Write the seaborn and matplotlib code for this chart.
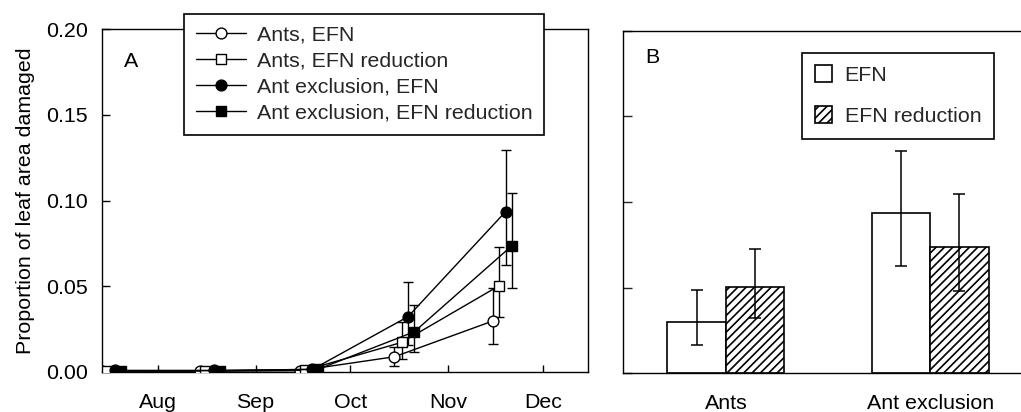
import numpy as np
import pandas as pd
import matplotlib
matplotlib.use("Agg")
import matplotlib.pyplot as plt
import seaborn as sns
from matplotlib.patches import Patch

# ---------------- Panel A data (days since 1 Aug) ----------------
series_names = ["Ants, EFN", "Ants, EFN reduction",
                "Ant exclusion, EFN", "Ant exclusion, EFN reduction"]

days_ants_efn = [-17.5, 13.5, 45.0, 75.0, 106.2]
days_ants_red = [-16.0, 15.0, 46.7, 77.3, 108.2]
days_excl_efn = [-13.5, 17.7, 49.0, 79.3, 110.2]
days_excl_red = [-11.5, 19.6, 50.8, 81.3, 112.2]

dmg_ants_efn = [0.0005, 0.0005, 0.0008, 0.0089, 0.0298]
dmg_ants_red = [0.0007, 0.0006, 0.0010, 0.0173, 0.0504]
dmg_excl_efn = [0.0009, 0.0009, 0.0015, 0.0323, 0.0936]
dmg_excl_red = [0.0008, 0.0008, 0.0016, 0.0235, 0.0737]

nan = np.nan
lo_ants_efn = [nan, nan, nan, 0.0035, 0.0165]
hi_ants_efn = [nan, nan, nan, 0.0145, 0.0488]
lo_ants_red = [nan, nan, nan, 0.0075, 0.0323]
hi_ants_red = [nan, nan, nan, 0.0294, 0.0728]
lo_excl_efn = [nan, nan, nan, 0.0160, 0.0625]
hi_excl_efn = [nan, nan, nan, 0.0527, 0.1296]
lo_excl_red = [nan, nan, nan, 0.0119, 0.0489]
hi_excl_red = [nan, nan, nan, 0.0390, 0.1043]

month_days = [0, 31, 61, 92, 122]
month_labels = ["Aug", "Sep", "Oct", "Nov", "Dec"]
y_ticks = [0.00, 0.05, 0.10, 0.15, 0.20]

# ---------------- Panel B data ----------------
groups = ["Ants", "Ant exclusion"]
treatments = ["EFN", "EFN reduction"]
bar_efn = [0.0298, 0.0938]
bar_red = [0.0502, 0.0736]
bar_efn_lo = [0.0163, 0.0628]
bar_efn_hi = [0.0488, 0.1298]
bar_red_lo = [0.0321, 0.0482]
bar_red_hi = [0.0726, 0.1047]

# ---------------- Style ----------------
sns.set_theme(style="white")
plt.rcParams["font.family"] = ["Liberation Sans", "DejaVu Sans"]
plt.rcParams["hatch.linewidth"] = 1.2
FS = 15.4
LW = 1.0

fig = plt.figure(figsize=(10.21, 4.12), dpi=100)
axA = fig.add_axes([0.0999, 0.0971, 0.4757, 0.8318])
axB = fig.add_axes([0.6099, 0.0939, 0.3901, 0.8316])

# ---------------- Panel A ----------------
series = [
    (days_ants_efn, dmg_ants_efn, lo_ants_efn, hi_ants_efn, "o", "white", 7.8),
    (days_ants_red, dmg_ants_red, lo_ants_red, hi_ants_red, "s", "white", 6.8),
    (days_excl_efn, dmg_excl_efn, lo_excl_efn, hi_excl_efn, "o", "black", 7.8),
    (days_excl_red, dmg_excl_red, lo_excl_red, hi_excl_red, "s", "black", 6.8),
]
handles = []
for name, (xd, yd, lo, hi, mk, fc, ms) in zip(series_names, series):
    xd = np.asarray(xd); yd = np.asarray(yd)
    lo = np.asarray(lo); hi = np.asarray(hi)
    m = ~np.isnan(lo)
    axA.errorbar(xd[m], yd[m], yerr=[yd[m] - lo[m], hi[m] - yd[m]], fmt="none",
                 ecolor="black", elinewidth=LW, capsize=3.6, capthick=LW, zorder=2)
    sns.lineplot(x=xd, y=yd, ax=axA, color="black", linewidth=LW, marker=mk,
                 markersize=ms, markerfacecolor=fc, markeredgecolor="black",
                 markeredgewidth=LW, zorder=3, sort=False, estimator=None)
    handles.append(axA.lines[-1])

axA.set_xlim(-17.65, 136.2)
axA.set_ylim(0, 0.20)
axA.set_xticks(month_days)
axA.set_xticklabels(month_labels)
axA.set_yticks(y_ticks)
axA.set_yticklabels([f"{v:.2f}" for v in y_ticks])
axA.tick_params(axis="x", direction="in", length=5, width=LW, pad=15,
                labelsize=FS, colors="black", bottom=True)
axA.tick_params(axis="y", direction="in", length=5.5, width=LW, pad=10,
                labelsize=FS, colors="black", left=True)
axA.set_ylabel("Proportion of leaf area damaged", fontsize=FS, labelpad=8,
               color="black")
axA.set_xlabel("")
for sp in axA.spines.values():
    sp.set_color("black"); sp.set_linewidth(LW)
axA.text(0.06, 0.907, "A", transform=axA.transAxes, fontsize=FS,
         ha="center", va="center", color="black")

legA = axA.legend(handles, series_names, loc="upper left",
                  bbox_to_anchor=(0.169, 1.0447), borderaxespad=0,
                  fontsize=FS, frameon=True, fancybox=False, framealpha=1,
                  edgecolor="black", handlelength=2.35, handletextpad=0.5,
                  labelspacing=0.33, borderpad=0.55)
legA.get_frame().set_linewidth(1.2)
legA.set_zorder(10)

# ---------------- Panel B ----------------
df = pd.DataFrame({
    "group": groups * 2,
    "treatment": [t for t in treatments for _ in groups],
    "value": bar_efn + bar_red,
})
sns.barplot(data=df, x="group", y="value", hue="treatment", order=groups,
            hue_order=treatments, palette=["white", "white"], saturation=1,
            edgecolor="black", linewidth=1.2, width=0.573, errorbar=None,
            legend=False, ax=axB)

hatches = ["", "////"]
vals = [bar_efn, bar_red]
los = [bar_efn_lo, bar_red_lo]
his = [bar_efn_hi, bar_red_hi]
for cont, h, v, lo, hi in zip(axB.containers, hatches, vals, los, his):
    xs = []
    for b in cont:
        b.set_hatch(h)
        b.set_edgecolor("black")
        xs.append(b.get_x() + b.get_width() / 2)
    v = np.asarray(v); lo = np.asarray(lo); hi = np.asarray(hi)
    axB.errorbar(xs, v, yerr=[v - lo, hi - v], fmt="none", ecolor="black",
                 elinewidth=1.1, capsize=4.2, capthick=1.1, zorder=5)

axB.set_xlim(-0.505, 1.445)
axB.set_ylim(0, 0.20)
axB.set_yticks(y_ticks)
axB.set_yticklabels([])
axB.set_xlabel("")
axB.set_ylabel("")
axB.tick_params(axis="y", direction="in", length=6.5, width=LW, left=True)
axB.tick_params(axis="x", length=0, pad=15, labelsize=FS, colors="black")
for name, sp in axB.spines.items():
    sp.set_color("black"); sp.set_linewidth(LW)
axB.spines["right"].set_visible(False)
axB.text(0.074, 0.922, "B", transform=axB.transAxes, fontsize=FS,
         ha="center", va="center", color="black")

legB_handles = [Patch(facecolor="white", edgecolor="black", linewidth=1.2, hatch=h)
                for h in ["", "////"]]
legB = axB.legend(legB_handles, treatments, loc="upper left",
                  bbox_to_anchor=(0.450, 0.936), borderaxespad=0,
                  fontsize=FS, frameon=True, fancybox=False, framealpha=1,
                  edgecolor="black", handlelength=0.8, handleheight=0.8,
                  handletextpad=0.6, labelspacing=1.0, borderpad=0.6)
legB.get_frame().set_linewidth(1.2)

fig.savefig("out.png", dpi=100)
